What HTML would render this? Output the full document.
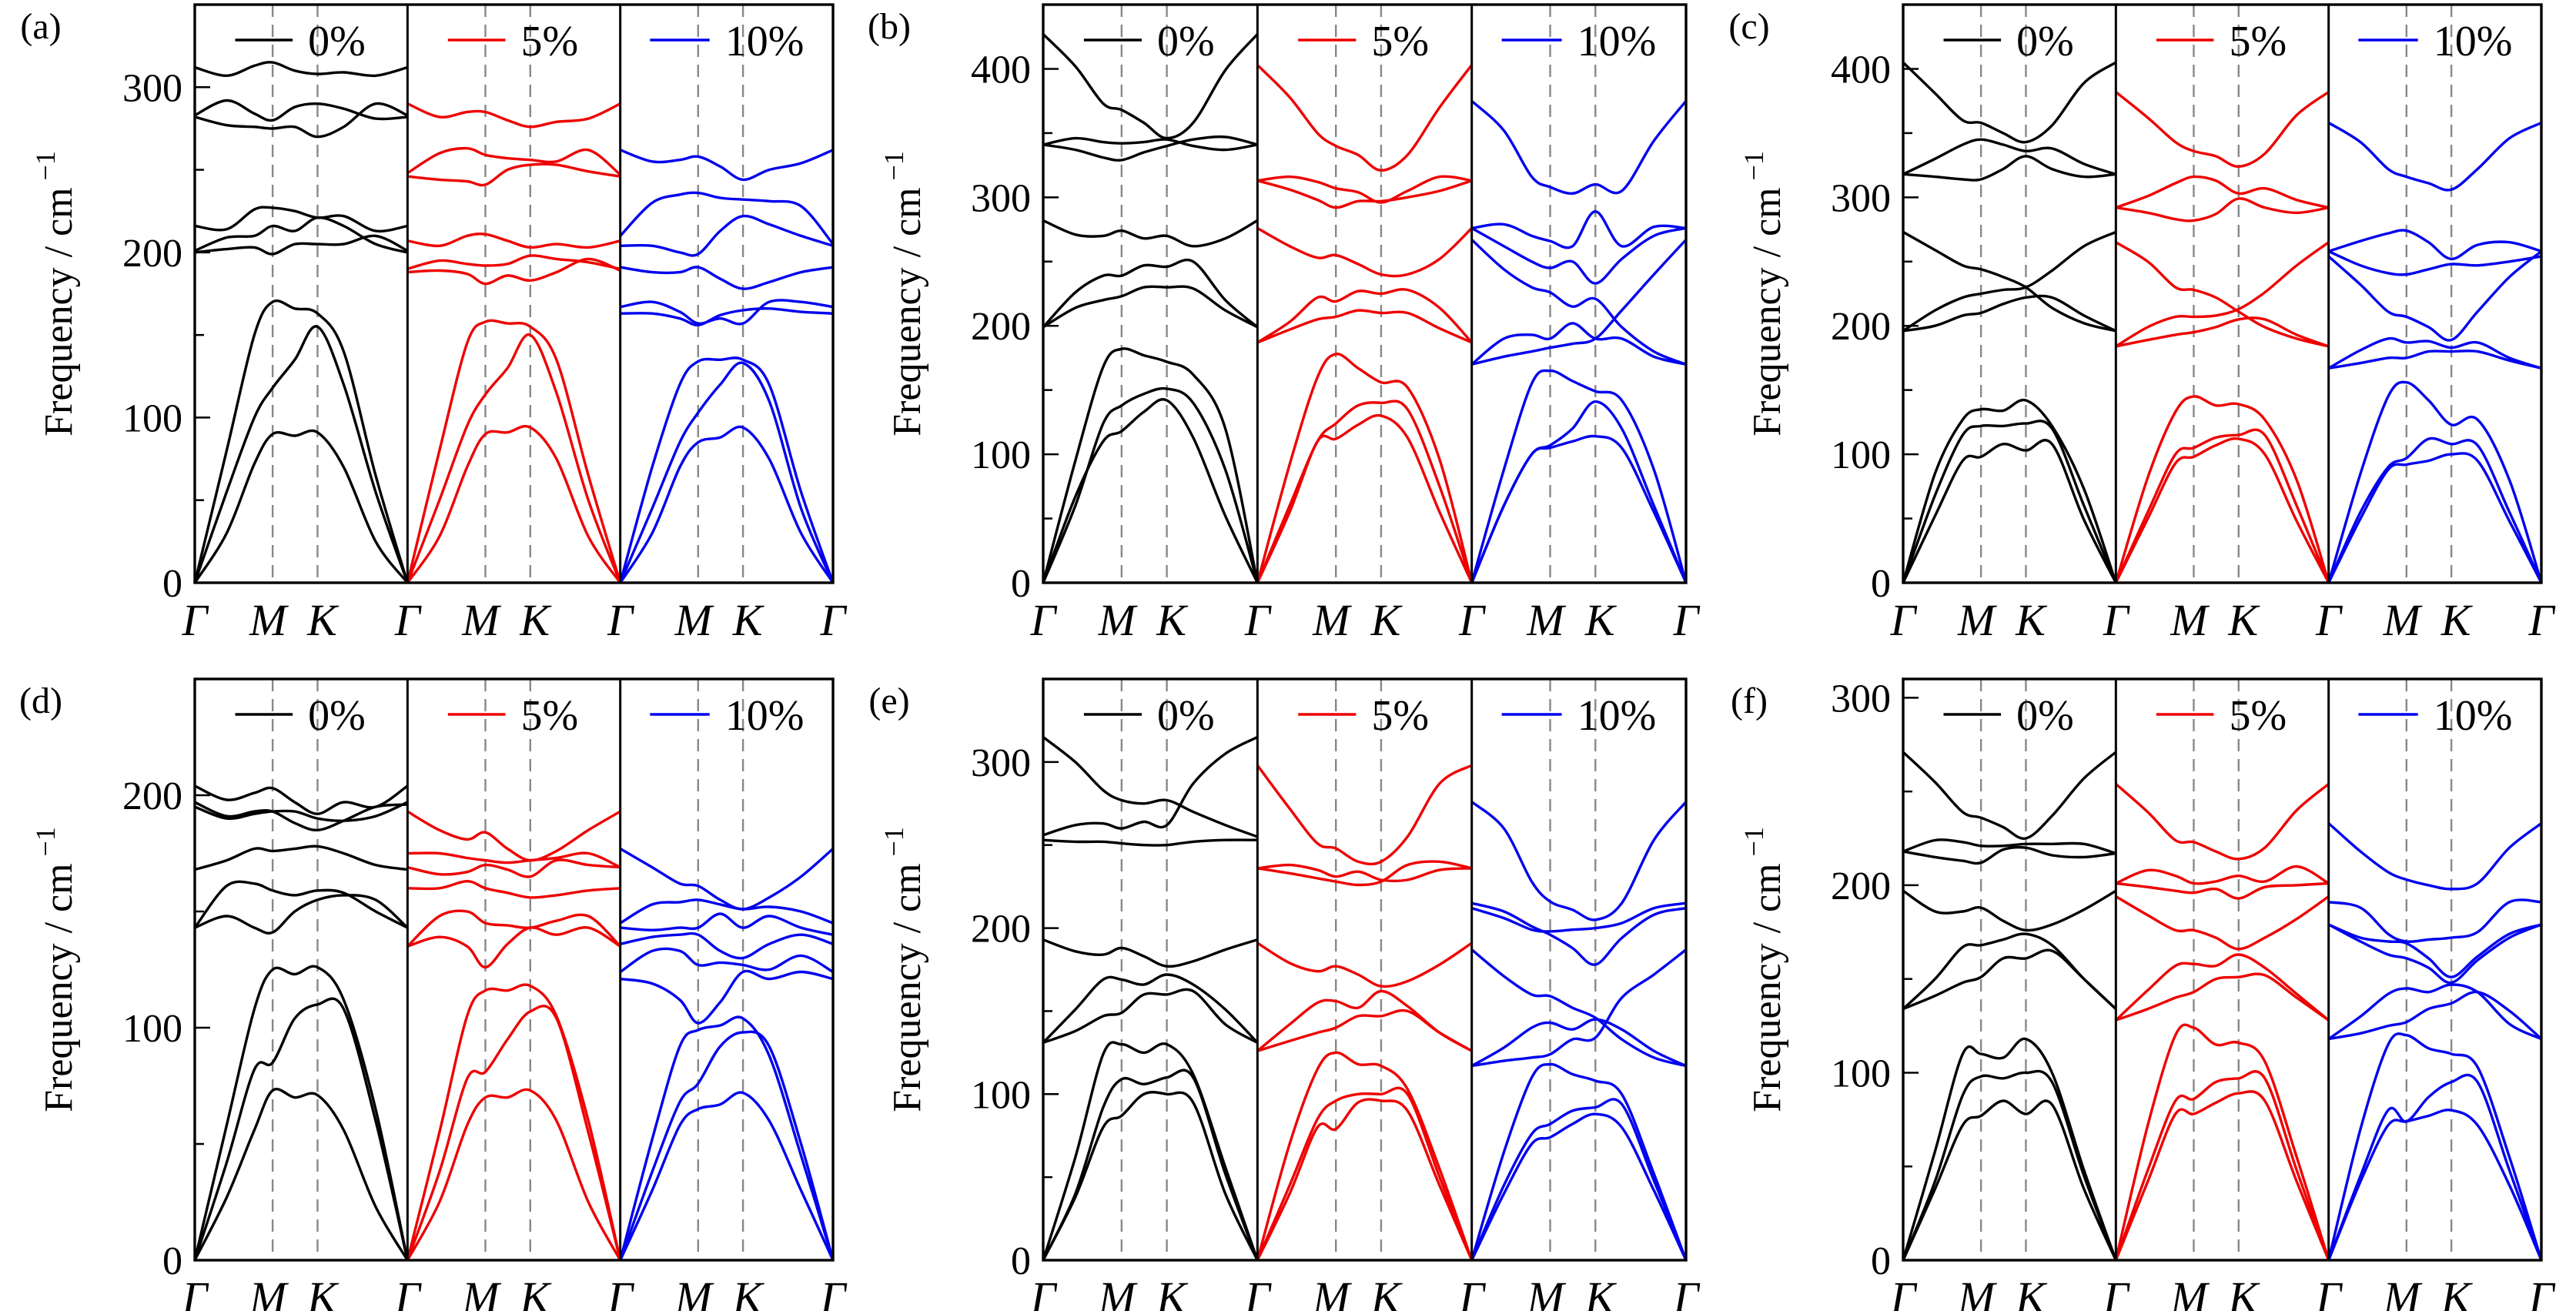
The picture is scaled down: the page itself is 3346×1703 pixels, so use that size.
<!DOCTYPE html>
<html><head><meta charset="utf-8"><title>Phonon dispersion under strain</title>
<style>
html,body{margin:0;padding:0;background:#fff;}
svg{display:block;font-family:"Liberation Serif","DejaVu Serif",serif;}
</style></head>
<body>
<svg id="fig" xmlns="http://www.w3.org/2000/svg" width="3346" height="1703" viewBox="0 0 3346 1703"></svg>
<script>
// k-path sample positions (fraction of Γ-M-K-Γ path)
const kPos = [0, 0.15, 0.28, 0.366, 0.47, 0.577, 0.7, 0.85, 1];
const kTickNames = ["Γ", "M", "K", "Γ"];
const kTickPos = [0, 0.366, 0.577, 1];
const strainLabels = ["0%", "5%", "10%"];
const panelLabels = ["(a)", "(b)", "(c)", "(d)", "(e)", "(f)"];
const panelYMax = [350, 450, 450, 250, 350, 310];

// (a)
const bandsA0 = [[0,30,72,90,89,91,70,25,0],[0,55,100,118,135,155,120,55,0],[0,80,150,170,166,163,140,65,0],
  [200,202,203,199,205,205,205,210,201],[201,209,210,216,213,221,216,205,200],[216,214,226,227,225,221,222,213,216],
  [282,277,276,275,276,270,276,290,283],[283,292,284,280,288,290,287,281,282],[312,307,313,315,310,308,309,307,312]];
const bandsA5 = [[0,28,70,90,91,94,75,28,0],[0,50,95,114,130,150,115,50,0],[0,80,145,158,157,155,135,65,0],
  [188,189,187,181,186,183,188,196,189],[190,195,193,192,193,198,196,194,190],[207,204,210,211,207,203,205,203,207],
  [246,244,243,241,250,253,253,249,246],[248,260,263,259,257,256,255,262,247],[290,282,285,285,280,276,279,281,290]];
const bandsA10 = [[0,30,70,85,88,94,75,30,0],[0,45,85,103,120,133,110,45,0],[0,70,120,134,135,135,120,55,0],
  [167,170,164,157,160,157,170,170,167],[163,163,160,156,162,165,166,164,163],[191,188,188,191,184,178,182,188,191],
  [204,204,200,199,213,222,217,210,204],[210,230,235,236,233,232,231,228,205],[262,255,256,258,252,244,250,254,262]];
// (b)
const bandsB0 = [[0,67,110,118,133,142,113,52,0],[0,60,124,138,147,151,140,88,0],[0,95,168,182,177,172,162,120,0],
  [199,214,220,223,230,230,229,212,199],[199,226,239,239,247,246,250,220,199],[282,271,270,274,268,270,262,268,282],
  [341,346,343,342,343,345,340,337,341],[341,337,331,329,335,340,345,347,341],[427,402,373,368,358,346,358,399,427]];
const bandsB5 = [[0,55,110,112,123,130,113,55,0],[0,60,110,124,138,140,135,75,0],[0,92,160,178,167,156,152,96,0],
  [187,197,205,207,212,210,210,198,187],[187,203,222,219,227,225,228,214,187],[276,262,253,255,248,240,240,252,276],
  [313,306,298,292,297,297,300,305,313],[313,316,312,307,304,296,305,316,313],[403,378,350,340,333,321,333,370,403]];
const bandsB10 = [[0,60,100,105,110,114,105,55,0],[0,60,100,107,120,141,120,60,0],[0,88,155,165,157,149,142,88,0],
  [170,176,180,183,186,190,212,240,267],[170,190,193,190,202,190,190,176,170],[267,244,230,226,215,221,199,180,170],
  [276,262,250,245,250,233,252,270,276],[276,279,270,266,262,289,262,277,276],[375,352,316,308,303,310,305,344,375]];
// (c)
const bandsC0 = [[0,52,95,98,108,103,108,49,0],[0,68,115,122,122,124,120,60,0],[0,85,127,135,134,142,122,73,0],
  [196,200,208,210,217,222,222,208,196],[196,212,222,225,228,230,243,262,273],[273,259,247,244,238,230,214,202,196],
  [318,316,314,314,322,332,322,316,318],[318,330,341,345,341,336,338,326,318],[405,381,360,358,350,343,356,389,405]];
const bandsC5 = [[0,50,93,98,107,112,100,48,0],[0,55,100,105,113,115,115,60,0],[0,82,133,145,138,139,127,80,0],
  [184,189,193,195,199,205,205,193,184],[184,199,207,207,208,213,226,247,265],[265,250,230,228,222,211,199,190,184],
  [292,288,283,282,287,299,292,288,292],[292,301,311,316,313,303,307,298,292],[382,362,343,336,332,324,334,364,382]];
const bandsC10 = [[0,50,88,92,95,100,95,48,0],[0,55,90,97,112,108,107,55,0],[0,85,145,156,142,123,127,80,0],
  [167,171,175,175,180,180,180,173,167],[167,181,190,187,188,183,187,175,167],[254,232,211,207,199,189,211,238,258],
  [258,247,241,240,244,248,247,250,254],[258,266,272,274,265,252,263,265,258],[358,343,322,316,311,306,322,346,358]];
// (d)
const bandsD0 = [[0,27,56,73,70,71,56,23,0],[0,42,82,85,104,110,108,60,0],[0,58,108,125,123,126,112,65,0],
  [143,148,143,141,150,155,157,155,143],[143,161,162,159,157,159,158,150,143],[168,172,177,176,177,178,175,170,168],
  [195,190,192,193,193,190,189,191,197],[197,191,193,193,188,185,189,195,196],[204,198,201,203,197,192,197,195,204]];
const bandsD5 = [[0,25,58,70,70,73,60,25,0],[0,38,78,81,95,107,104,55,0],[0,55,105,116,116,118,105,60,0],
  [135,139,135,126,136,143,140,143,135],[135,148,150,145,144,143,146,148,135],[160,160,163,160,158,156,157,159,160],
  [169,166,167,170,168,165,172,170,169],[175,175,173,172,171,172,173,175,169],[193,185,181,184,177,172,176,185,193]];
const bandsD10 = [[0,30,58,65,67,72,60,30,0],[0,38,68,76,92,98,92,50,0],[0,52,92,99,101,104,88,45,0],
  [121,119,112,102,111,124,121,124,121],[124,133,133,127,128,127,125,131,124],[136,139,140,140,133,130,136,140,136],
  [143,142,143,143,149,143,148,143,140],[145,153,154,155,153,151,152,150,145],[177,169,162,161,155,151,156,165,177]];
// (e)
const bandsE0 = [[0,38,80,87,100,100,95,40,0],[0,40,92,109,106,110,110,52,0],[0,62,124,130,125,130,112,56,0],
  [131,138,147,149,160,160,162,142,131],[131,151,169,169,166,172,166,151,131],[193,186,184,188,183,177,180,187,193],
  [253,252,252,251,250,250,252,253,253],[256,262,263,260,264,262,287,305,315],[315,300,283,277,275,277,270,262,255]];
const bandsE5 = [[0,40,80,79,95,96,90,45,0],[0,45,85,96,100,100,100,50,0],[0,70,115,125,118,117,103,55,0],
  [126,132,137,140,147,147,150,137,126],[126,142,155,156,152,162,153,137,126],[191,179,174,177,172,165,168,178,191],
  [236,233,230,228,226,228,238,240,236],[236,238,235,231,234,229,229,235,236],[298,272,251,248,240,240,255,287,298]];
const bandsE10 = [[0,40,70,74,82,88,80,42,0],[0,45,76,82,90,92,94,48,0],[0,65,110,118,112,108,100,52,0],
  [117,120,122,124,133,134,158,172,187],[117,128,140,143,139,145,139,126,117],[187,171,160,159,152,146,133,122,117],
  [212,206,199,198,199,200,203,212,215],[215,210,201,196,188,178,194,208,212],[276,260,228,216,211,205,215,253,276]];
// (f)
const bandsF0 = [[0,38,72,77,85,78,83,38,0],[0,42,88,98,97,100,95,45,0],[0,58,110,110,108,118,100,48,0],
  [134,141,148,151,161,161,165,150,134],[134,150,167,168,171,174,168,150,134],[197,186,186,188,181,176,179,187,197],
  [218,215,213,212,219,220,216,215,217],[218,224,223,221,221,222,222,222,217],[271,255,239,236,231,225,237,257,271]];
const bandsF5 = [[0,42,78,78,84,89,85,42,0],[0,48,85,86,95,97,97,48,0],[0,72,120,124,115,116,106,55,0],
  [128,134,140,143,150,151,152,140,128],[128,144,157,158,157,163,156,142,128],[194,184,176,176,172,166,172,182,194],
  [201,199,197,196,198,193,199,200,201],[201,208,205,201,202,205,202,210,201],[254,239,224,223,218,214,220,240,254]];
const bandsF10 = [[0,42,72,74,77,80,72,40,0],[0,45,80,74,87,95,95,48,0],[0,70,115,120,113,110,103,55,0],
  [118,121,125,127,134,137,143,133,118],[118,130,142,145,143,147,143,126,118],[179,170,163,161,156,148,160,172,179],
  [179,172,170,169,161,151,162,174,179],[191,188,174,170,171,172,175,191,191],[233,218,207,203,200,198,201,220,233]];

const allBands = [
  [bandsA0, bandsA5, bandsA10], [bandsB0, bandsB5, bandsB10], [bandsC0, bandsC5, bandsC10],
  [bandsD0, bandsD5, bandsD10], [bandsE0, bandsE5, bandsE10], [bandsF0, bandsF5, bandsF10]
];

const NS = "http://www.w3.org/2000/svg";
const svg = document.getElementById("fig");
const colLeft = [253, 1355, 2472], colRight = [1082, 2190, 3301];
const rowTop = [6, 882], rowBottom = [757, 1637];
const colors = ["#000000", "#ee0000", "#0000ee"];

function mk(tag, attrs, parent) {
  const e = document.createElementNS(NS, tag);
  for (const k in attrs) e.setAttribute(k, attrs[k]);
  (parent || svg).appendChild(e);
  return e;
}
function smoothPath(pts) {
  let d = "M" + pts[0][0].toFixed(1) + "," + pts[0][1].toFixed(1);
  for (let i = 0; i < pts.length - 1; i++) {
    const p0 = pts[Math.max(0, i - 1)], p1 = pts[i], p2 = pts[i + 1], p3 = pts[Math.min(pts.length - 1, i + 2)];
    const c1x = p1[0] + (p2[0] - p0[0]) / 6, c1y = p1[1] + (p2[1] - p0[1]) / 6;
    const c2x = p2[0] - (p3[0] - p1[0]) / 6, c2y = p2[1] - (p3[1] - p1[1]) / 6;
    d += " C" + c1x.toFixed(1) + "," + c1y.toFixed(1) + " " + c2x.toFixed(1) + "," + c2y.toFixed(1) + " " + p2[0].toFixed(1) + "," + p2[1].toFixed(1);
  }
  return d;
}

for (let p = 0; p < 6; p++) {
  const r = Math.floor(p / 3), c = p % 3;
  const L = colLeft[c], R = colRight[c], T = rowTop[r], B = rowBottom[r];
  const ymax = panelYMax[p];
  const subW = (R - L) / 3;
  const yScale = v => B - (v / ymax) * (B - T);
  const g = mk("g", {});
  
  

  const lab = mk("text", {x: L - 200, y: T + 44, "font-size": 48, "text-anchor": "middle"}, g);
  
  
  lab.textContent = panelLabels[p];

  const yt = mk("text", {x: 0, y: 0, "font-size": 52, "text-anchor": "middle", transform: "translate(" + (L - 160) + "," + ((T + B) / 2) + ") rotate(-90)"}, g);
  
  
  yt.appendChild(document.createTextNode("Frequency / cm"));
  const sup = mk("tspan", {"font-size": 36, dy: -22}, yt);
  sup.textContent = " −1";

  for (let s = 0; s < 3; s++) {
    const x0 = L + s * subW;
    const xScale = t => x0 + t * subW;
    const sg = mk("g", {}, g);
    
    
    for (let k = 1; k <= 2; k++) {
      const ln = mk("line", {x1: xScale(kTickPos[k]), x2: xScale(kTickPos[k]), y1: T, y2: B, stroke: "#888", "stroke-width": 2.4, "stroke-dasharray": "16,10"}, sg);
      
      
    }
    const bands = allBands[p][s];
    for (let b = 0; b < bands.length; b++) {
      const pts = bands[b].map((v, i) => [xScale(kPos[i]), yScale(v)]);
      const path = mk("path", {d: smoothPath(pts), fill: "none", stroke: colors[s], "stroke-width": 3.4, "stroke-linejoin": "round"}, sg);
      
      
    }
    const lx1 = x0 + (s === 2 ? 0.14 : 0.19) * subW, lx2 = x0 + (s === 2 ? 0.42 : 0.46) * subW;
    const leg = mk("g", {}, sg);
    
    
    mk("line", {x1: lx1, x2: lx2, y1: T + 46, y2: T + 46, stroke: colors[s], "stroke-width": 3.4}, leg);
    const lt = mk("text", {x: lx2 + 20, y: T + 66, "font-size": 56}, leg);
    lt.textContent = strainLabels[s];
    for (let k = 0; k < 4; k++) {
      if (s > 0 && k === 0) continue;
      const xt = mk("text", {x: xScale(kTickPos[k]) + (k === 1 ? -6 : (k === 2 ? 6 : 0)), y: B + 68, "font-size": 58, "font-style": "italic", "text-anchor": "middle"}, sg);
      
      
      xt.textContent = kTickNames[k];
    }
    if (s > 0) mk("line", {x1: x0, x2: x0, y1: T, y2: B, stroke: "#000", "stroke-width": 3}, sg);
  }
  for (let v = 0; v <= ymax; v += 50) {
    const y = yScale(v);
    const major = v % 100 === 0;
    mk("line", {x1: L, x2: L + (major ? 20 : 12), y1: y, y2: y, stroke: "#000", "stroke-width": 2.5}, g);
    if (major) {
      const tl = mk("text", {x: L - 16, y: y + 18, "font-size": 52, "text-anchor": "end"}, g);
      
      
      tl.textContent = String(v);
    }
  }
  const fr = mk("rect", {x: L, y: T, width: R - L, height: B - T, fill: "none", stroke: "#000", "stroke-width": 3.4}, g);
  
  
}
</script>
</body></html>
